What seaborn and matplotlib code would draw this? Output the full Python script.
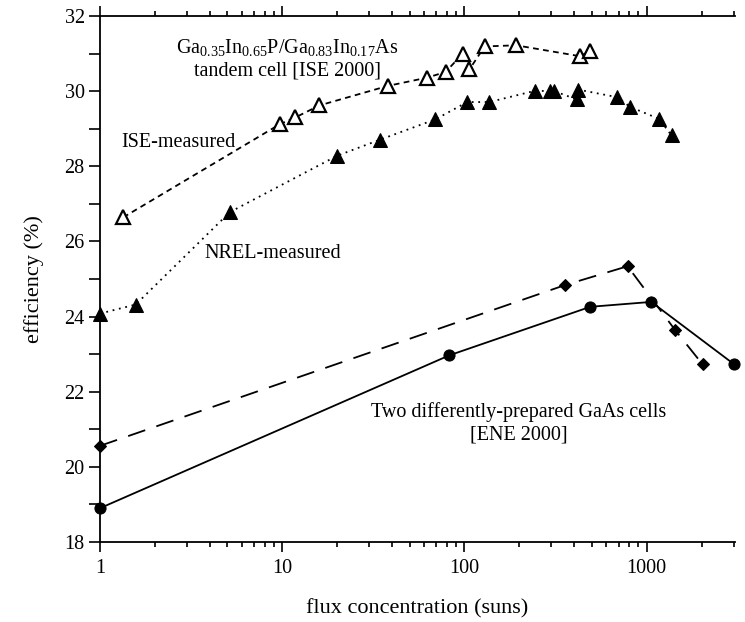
import matplotlib
matplotlib.use("Agg")
import matplotlib.pyplot as plt
from matplotlib.ticker import LogLocator, FixedLocator, NullFormatter, FuncFormatter
import numpy as np
import pandas as pd
import seaborn as sns

# GaInP/GaInAs tandem cell, ISE-measured (open triangles)
ise_x = [1.34, 9.7, 11.8, 16.0, 38.0, 62.5, 78.7, 98.0, 106.5, 129, 192, 430, 489]
ise_y = [26.64, 29.12, 29.30, 29.62, 30.14, 30.36, 30.51, 31.00, 30.58, 31.19, 31.22, 30.93, 31.07]

# Same tandem cell, NREL-measured (filled triangles)
nrel_x = [1.0, 1.57, 5.16, 20.0, 34.5, 69.3, 103.5, 137, 244, 295, 311, 412, 421, 687, 812, 1170, 1368]
nrel_y = [24.08, 24.32, 26.78, 28.28, 28.71, 29.25, 29.71, 29.71, 30.01, 30.00, 30.00, 29.78, 30.04, 29.84, 29.58, 29.26, 28.82]

# Two GaAs cells [ENE 2000]
gaas_a_x = [1.0, 357, 785, 1432, 2023]
gaas_a_y = [20.56, 24.84, 25.34, 23.64, 22.73]
gaas_b_x = [1.0, 82.7, 490, 1059, 3016]
gaas_b_y = [18.90, 22.97, 24.26, 24.39, 22.73]

y_ticks = [18, 20, 22, 24, 26, 28, 30, 32]
x_ticks = [1, 10, 100, 1000]

sns.set_style("ticks")
plt.rcParams["font.family"] = ["Liberation Serif", "DejaVu Serif"]
plt.rcParams["mathtext.fontset"] = "custom"
plt.rcParams["mathtext.rm"] = "Liberation Serif"
plt.rcParams["mathtext.it"] = "Liberation Serif:italic"
plt.rcParams["text.color"] = "black"
plt.rcParams["axes.labelcolor"] = "black"

fig = plt.figure(figsize=(7.45, 6.22), dpi=100)
ax = fig.add_axes([100 / 745, 1 - 542 / 622, 635 / 745, 526 / 622])

lw = 1.3
sns.lineplot(x=ise_x, y=ise_y, ax=ax, color="black", lw=lw, sort=True, estimator=None,
             marker="^", markersize=10, markerfacecolor="white", markeredgecolor="black",
             markeredgewidth=1.6, dashes=False, linestyle=(0, (3.2, 2.4)), clip_on=False)
sns.lineplot(x=nrel_x, y=nrel_y, ax=ax, color="black", lw=lw, sort=True, estimator=None,
             marker="^", markersize=10, markerfacecolor="black", markeredgecolor="black",
             dashes=False, linestyle=(0, (1.0, 2.6)), clip_on=False)
sns.lineplot(x=gaas_a_x, y=gaas_a_y, ax=ax, color="black", lw=lw, sort=True, estimator=None,
             marker="D", markersize=6.5, markerfacecolor="black", markeredgecolor="black",
             dashes=False, linestyle=(0, (10, 6.5)), clip_on=False)
sns.lineplot(x=gaas_b_x, y=gaas_b_y, ax=ax, color="black", lw=lw, sort=True, estimator=None,
             marker="o", markersize=8, markerfacecolor="black", markeredgecolor="black",
             dashes=False, linestyle="-", clip_on=False)

ax.set_xscale("log")
ax.set_xlim(1, 3050)
ax.set_ylim(18, 32)

ax.yaxis.set_major_locator(FixedLocator(y_ticks))
ax.yaxis.set_minor_locator(FixedLocator([19, 21, 23, 25, 27, 29, 31]))
ax.xaxis.set_major_locator(FixedLocator(x_ticks))
ax.xaxis.set_major_formatter(FuncFormatter(lambda v, p: f"{int(v)}"))
ax.xaxis.set_minor_locator(LogLocator(base=10, subs=np.arange(2, 10)))
ax.xaxis.set_minor_formatter(NullFormatter())

for sp in ("left", "bottom", "top"):
    ax.spines[sp].set_linewidth(1.3)
    ax.spines[sp].set_color("black")
ax.spines["right"].set_visible(False)

ax.tick_params(axis="both", which="both", direction="out", color="black", width=1.2,
               labelsize=14.5, labelcolor="black")
ax.tick_params(axis="y", which="major", length=8, pad=3)
ax.tick_params(axis="y", which="minor", length=8)
ax.tick_params(axis="x", which="major", length=7.5, pad=5, top=True)
ax.tick_params(axis="x", which="minor", length=3.5, top=True)

ax.set_xlabel("flux concentration (suns)", fontsize=16, labelpad=15)
ax.set_ylabel("efficiency (%)", fontsize=16, labelpad=15)

ax.text(0.295, 0.94, r"Ga$_{0.35}$In$_{0.65}$P/Ga$_{0.83}$In$_{0.17}$As", transform=ax.transAxes,
        ha="center", va="center", fontsize=14.5)
ax.text(0.295, 0.895, "tandem cell [ISE 2000]", transform=ax.transAxes,
        ha="center", va="center", fontsize=14.5)
ax.text(0.034, 0.76, "ISE-measured", transform=ax.transAxes,
        ha="left", va="center", fontsize=14.5)
ax.text(0.164, 0.549, "NREL-measured", transform=ax.transAxes,
        ha="left", va="center", fontsize=14.5)
ax.text(0.66, 0.247, "Two differently-prepared GaAs cells", transform=ax.transAxes,
        ha="center", va="center", fontsize=14.5)
ax.text(0.66, 0.204, "[ENE 2000]", transform=ax.transAxes,
        ha="center", va="center", fontsize=14.5)

fig.savefig("out.png", dpi=100, facecolor="white")
